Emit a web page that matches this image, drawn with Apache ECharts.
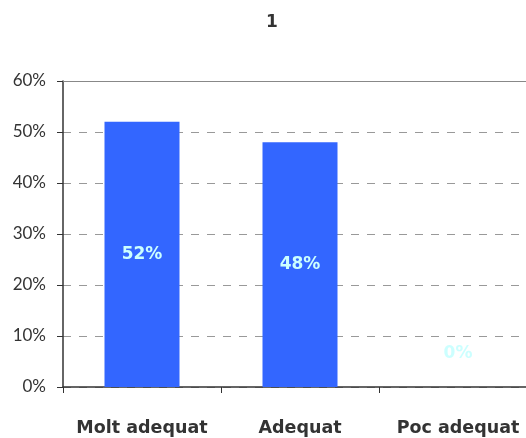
<!DOCTYPE html>
<html>
<head>
<meta charset="utf-8">
<script src="https://cdn.jsdelivr.net/npm/echarts@6/dist/echarts.min.js"></script>
<style>
html, body { margin: 0; padding: 0; background: #fff; }
#chart { width: 526px; height: 438px; }
</style>
</head>
<body>
<div id="chart"></div>
<script>
var categories = ['Molt adequat', 'Adequat', 'Poc adequat'];
var values = [52, 48, 0];
var yTicks = [0, 10, 20, 30, 40, 50, 60];

var chart = echarts.init(document.getElementById('chart'));

var barData = [];
for (var i = 0; i < values.length; i++) {
	var item = { value: values[i] };
	if (values[i] === 0) {
		// empty bar: label sits above the axis
		item.label = { position: 'top', distance: 25 };
	}
	barData.push(item);
}

var option = {
	animation: false,
	title: {
		text: '1',
		left: 267,
		top: 9,
		textAlign: 'center',
		textStyle: { fontFamily: 'DejaVu Sans', fontWeight: 'bold', fontSize: 17, color: '#333' }
	},
	grid: {
		left: 63,
		top: 81,
		width: 474,
		height: 306,
		outerBoundsMode: 'none',
		containLabel: false
	},
	xAxis: {
		type: 'category',
		data: categories,
		axisLine: { lineStyle: { color: '#333', width: 1.5 } },
		axisTick: { show: true, length: 6, alignWithLabel: false, lineStyle: { color: '#333' } },
		axisLabel: {
			interval: 0,
			margin: 32,
			fontFamily: 'DejaVu Sans',
			fontWeight: 'bold',
			fontSize: 17.5,
			color: '#333'
		}
	},
	yAxis: {
		type: 'value',
		min: yTicks[0],
		max: yTicks[yTicks.length - 1],
		interval: 10,
		axisLine: { show: true, lineStyle: { color: '#333', width: 1.5 } },
		axisTick: { show: true, length: 6, lineStyle: { color: '#333' } },
		axisLabel: {
			margin: 17,
			fontFamily: 'Lato',
			fontSize: 17,
			color: '#333',
			formatter: '{value}%'
		},
		splitLine: { show: true, lineStyle: { color: '#999', type: [8, 8], width: 1 } }
	},
	series: [{
		type: 'bar',
		data: barData,
		barWidth: 75,
		itemStyle: { color: '#3366ff' },
		label: {
			show: true,
			position: 'inside',
			formatter: '{c}%',
			fontFamily: 'DejaVu Sans',
			fontWeight: 'bold',
			fontSize: 17,
			color: '#ccffff'
		},
		markLine: {
			silent: true,
			symbol: 'none',
			label: { show: false },
			lineStyle: { color: '#888', type: 'solid', width: 1 },
			data: [{ yAxis: 60 }]
		}
	}]
};
chart.setOption(option);
</script>
</body>
</html>
